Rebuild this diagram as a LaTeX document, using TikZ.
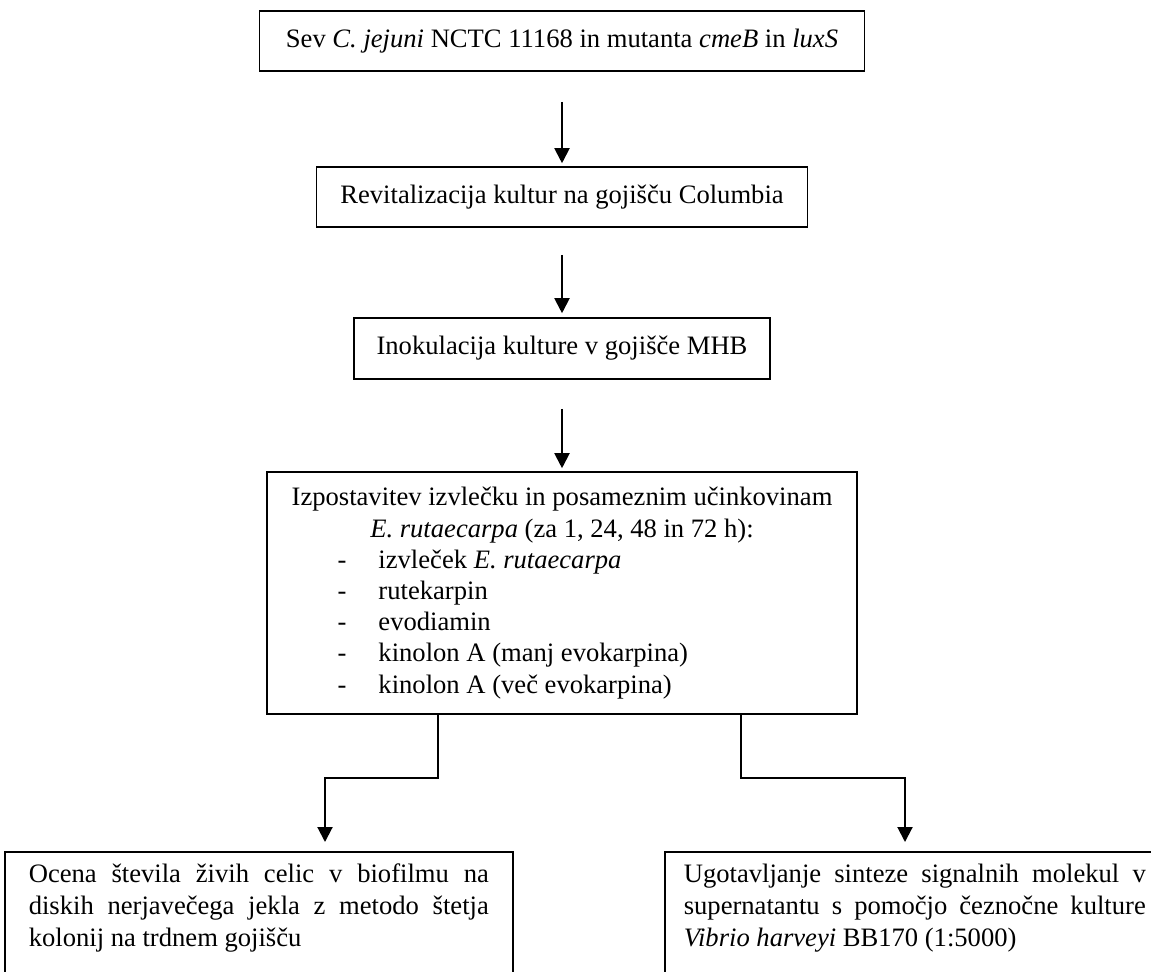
\documentclass[tikz,border=0pt]{standalone}
\usepackage{fontspec}
\setmainfont{Liberation Serif}
\usetikzlibrary{arrows.meta,calc}
\newcommand{\itm}[1]{\makebox[272pt][l]{\hspace*{23.75pt}\makebox[20.5pt][l]{-}#1}}
\begin{document}
\begin{tikzpicture}[x=0.5pt,y=-0.5pt,
  box/.style={draw, line width=0.8pt, inner sep=0pt, align=center, font=\fontsize{13.3}{15.6}\selectfont},
  botbox/.style={draw, line width=0.8pt, inner ysep=6pt, font=\fontsize{13.3}{16}\selectfont, anchor=north west},
  conn/.style={line width=1pt, -{Triangle[length=7.5pt,width=7.5pt]}}]
\useasboundingbox (0,0) rectangle (1151,971);
\clip (0,0) rectangle (1151,971);

\node[box, minimum width=302.5pt, minimum height=30pt] (b1) at (562,41)
  {Sev \textit{C. jejuni} NCTC 11168 in mutanta \textit{cmeB} in \textit{luxS}};
\node[box, minimum width=245.5pt, minimum height=30pt] (b2) at (562,197)
  {Revitalizacija kultur na gojišču Columbia};
\node[box, minimum width=208pt, minimum height=30.5pt] (b3) at (562,348.5)
  {Inokulacija kulture v gojišče MHB};
\node[box, minimum width=295pt, minimum height=121pt] (b4) at (562,593)
  {\parbox[c]{272pt}{\centering
   Izpostavitev izvlečku in posameznim učinkovinam\\
   \textit{E. rutaecarpa} (za 1, 24, 48 in 72 h):\\
   \itm{izvleček \textit{E. rutaecarpa}}\\
   \itm{rutekarpin}\\
   \itm{evodiamin}\\
   \itm{kinolon A (manj evokarpina)}\\
   \itm{kinolon A (več evokarpina)}}};

\node[botbox, inner xsep=12pt] (b5) at (4,851)
  {\parbox[c][80pt][t]{230pt}{\makebox[230pt][s]{Ocena števila živih celic v biofilmu na}\\
   \makebox[230pt][s]{diskih nerjavečega jekla z metodo štetja}\\
   kolonij na trdnem gojišču}};
\node[botbox, inner xsep=9.5pt] (b6) at (664,851)
  {\parbox[c][80pt][t]{231pt}{\makebox[231pt][s]{Ugotavljanje sinteze signalnih molekul v}\\
   \makebox[231pt][s]{supernatantu s pomočjo čeznočne kulture}\\
   \textit{Vibrio harveyi} BB170 (1:5000)}};

\draw[conn, shorten <=15pt, shorten >=1.5pt] (b1.south) -- (b2.north);
\draw[conn, shorten <=13.5pt, shorten >=2pt] (b2.south) -- (b3.north);
\draw[conn, shorten <=14.5pt, shorten >=1.5pt] (b3.south) -- (b4.north);

\coordinate (l1) at (438,778);
\coordinate (r1) at (741,778);
\draw[conn, shorten >=4.5pt] (b4.south -| l1) -- (l1) -- (l1 -| 325,0) -- (b5.north -| 325,0);
\draw[conn, shorten >=4.5pt] (b4.south -| r1) -- (r1) -- (r1 -| 905,0) -- (b6.north -| 905,0);
\end{tikzpicture}
\end{document}
